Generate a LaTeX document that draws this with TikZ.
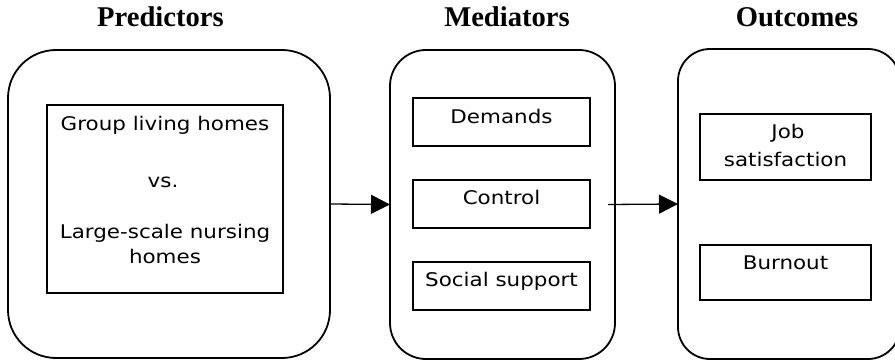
\documentclass[tikz,border=0pt]{standalone}
\usepackage{fontspec}
\newfontfamily\bodyfont{DejaVu Sans}[FakeStretch=1.14]
\newfontfamily\titlefont{Liberation Serif}
\usetikzlibrary{arrows.meta}
\begin{document}
\begin{tikzpicture}[x=1pt,y=-1pt,
  outerbox/.style={draw,line width=1.8pt,anchor=north west,inner sep=0pt,outer sep=0pt},
  innerbox/.style={draw,line width=1.4pt,anchor=north west,inner sep=0pt,outer sep=0pt},
  txt/.style={anchor=base,inner sep=0pt,font=\bodyfont\fontsize{18.8}{22}\selectfont},
  ttl/.style={anchor=base,inner sep=0pt,font=\titlefont\bfseries\fontsize{28.6}{32}\selectfont},
  arr/.style={line width=1.3pt,-{Triangle[length=19pt,width=19pt]}}]
\useasboundingbox (0,0) rectangle (895,361);
\clip (0,0) rectangle (895,361);
% titles
\node[ttl] (t1) at (160.5,27) {Predictors};
\node[ttl] (t2) at (507,27) {Mediators};
\node[ttl] (t3) at (797,27) {Outcomes};
% outer boxes
\node[outerbox,rounded corners=48pt,minimum width=322pt,minimum height=308pt] (pred) at (8,50) {};
\node[outerbox,rounded corners=36pt,minimum width=225pt,minimum height=309pt] (med) at (390,50) {};
\node[outerbox,rounded corners=32pt,minimum width=222pt,minimum height=310pt] (out) at (678,49) {};
% inner boxes
\node[innerbox,minimum width=236pt,minimum height=188pt] (predbox) at (47,105) {};
\node[innerbox,minimum width=177pt,minimum height=48pt] (dem) at (413,98) {};
\node[innerbox,minimum width=177pt,minimum height=48pt] (con) at (413,180) {};
\node[innerbox,minimum width=177pt,minimum height=48pt] (soc) at (413,262) {};
\node[innerbox,minimum width=171pt,minimum height=66pt] (job) at (700,114) {};
\node[innerbox,minimum width=171pt,minimum height=55pt] (bur) at (700,245) {};
% texts
\node[txt] (g1) at (165,131) {Group living homes};
\node[txt] (g2) at (163,187) {vs.};
\node[txt] (g3) at (165,238) {Large-scale nursing};
\node[txt] (g4) at (165,263) {homes};
\node[txt] (d1) at (501.5,123) {Demands};
\node[txt] (c1) at (501.5,204) {Control};
\node[txt] (s1) at (501.5,286) {Social support};
\node[txt] (j1) at (788,139) {Job};
\node[txt] (j2) at (785.5,166) {satisfaction};
\node[txt] (b1) at (785.5,269) {Burnout};
% arrows
\draw[arr] (pred.east) -- (med.west);
\coordinate (a2s) at ([xshift=-7pt]med.east);
\draw[arr] (a2s) -- (out.west);
\end{tikzpicture}
\end{document}
